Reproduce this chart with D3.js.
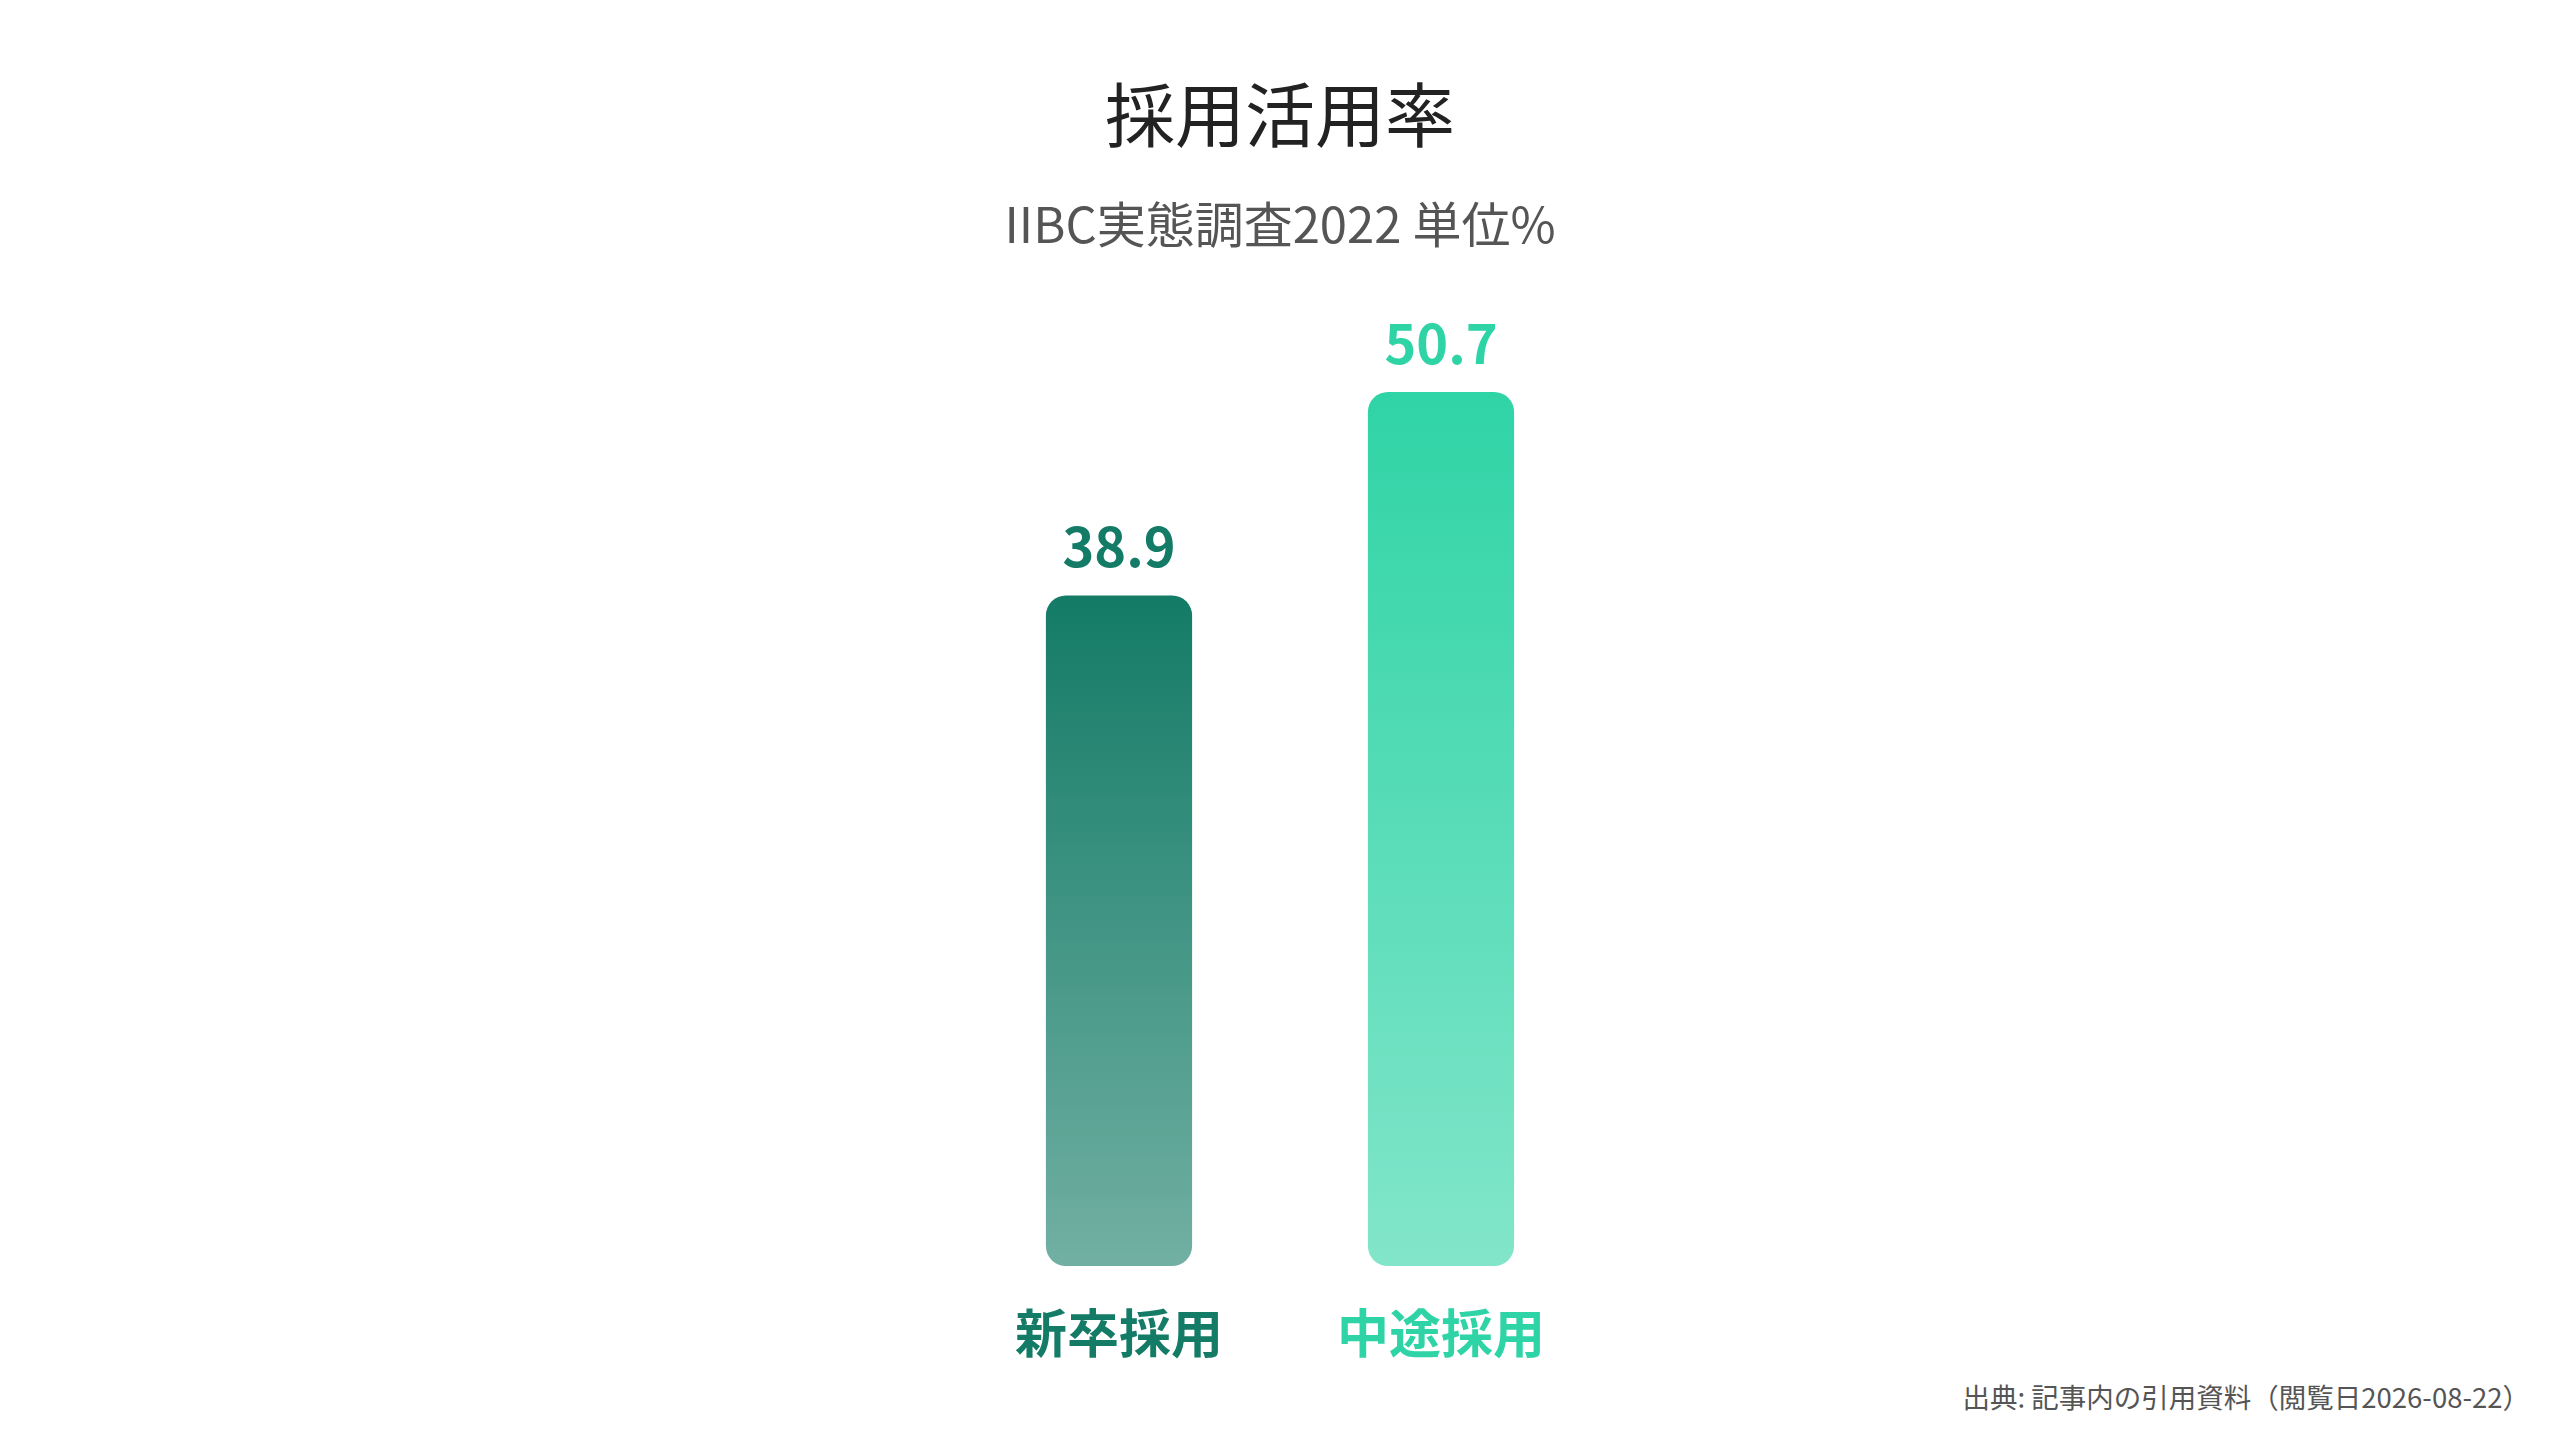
<!DOCTYPE html>
<html lang="ja">
<head>
<meta charset="utf-8">
<script src="https://cdn.jsdelivr.net/npm/d3@7"></script>
<style>
  html, body { margin: 0; padding: 0; background: #fff; }
  svg text { font-family: "Noto Sans CJK JP", "Noto Sans", sans-serif; }
</style>
</head>
<body>
<div id="chart"></div>
<script>
const categories = ['新卒採用', '中途採用'];
const values = [38.9, 50.7];
const colors = ['#137b66', '#2fd4a6'];

const W = 2560, H = 1440;

const svg = d3.select('#chart').append('svg')
  .attr('width', W)
  .attr('height', H);

const defs = svg.append('defs');
categories.forEach((c, i) => {
  const grad = defs.append('linearGradient')
    .attr('id', 'grad' + i)
    .attr('x1', 0).attr('y1', 0)
    .attr('x2', 0).attr('y2', 1);
  grad.append('stop').attr('offset', '0%')
    .attr('stop-color', colors[i]).attr('stop-opacity', 1);
  grad.append('stop').attr('offset', '100%')
    .attr('stop-color', colors[i]).attr('stop-opacity', 0.6);
});

const x_scale = d3.scaleBand()
  .domain(categories)
  .range([958, 1602])
  .paddingInner(0.546)
  .paddingOuter(0.273);

const y_scale = d3.scaleLinear()
  .domain([0, d3.max(values)])
  .range([1266, 392]);

const data = categories.map((c, i) => ({ category: c, value: values[i], i: i }));

// title
svg.append('text')
  .attr('x', W / 2).attr('y', 142)
  .attr('text-anchor', 'middle')
  .attr('font-size', 70)
  .attr('fill', '#222')
  .text('採用活用率');

svg.append('text')
  .attr('x', W / 2).attr('y', 243)
  .attr('text-anchor', 'middle')
  .attr('font-size', 49)
  .attr('fill', '#555')
  .text('IIBC実態調査2022 単位%');

const bars = svg.append('g').attr('class', 'bars')
  .selectAll('g')
  .data(data)
  .enter().append('g');

bars.append('rect')
  .attr('x', (d) => x_scale(d.category))
  .attr('y', (d) => y_scale(d.value))
  .attr('width', x_scale.bandwidth())
  .attr('height', (d) => y_scale(0) - y_scale(d.value))
  .attr('rx', 20).attr('ry', 20)
  .attr('fill', (d) => 'url(#grad' + d.i + ')');

bars.append('text')
  .attr('x', (d) => x_scale(d.category) + x_scale.bandwidth() / 2)
  .attr('y', (d) => y_scale(d.value) - 28)
  .attr('text-anchor', 'middle')
  .attr('font-size', 54)
  .attr('font-weight', 700)
  .attr('fill', (d) => colors[d.i])
  .text((d) => d.value.toFixed(1));

// category labels
svg.append('g')
  .attr('transform', 'translate(0,' + y_scale(0) + ')')
  .call(d3.axisBottom(x_scale).tickSize(0).tickPadding(0))
  .call((g) => g.select('.domain').remove())
  .selectAll('text')
  .attr('dy', null)
  .attr('y', 87)
  .attr('font-size', 52)
  .attr('font-weight', 700)
  .attr('font-family', '"Noto Sans CJK JP", sans-serif')
  .attr('fill', (d, i) => colors[i]);

svg.append('text')
  .attr('x', 2530).attr('y', 1408)
  .attr('text-anchor', 'end')
  .attr('font-size', 27.5)
  .attr('fill', '#555')
  .text('出典: 記事内の引用資料（閲覧日2026-08-22）');
</script>
</body>
</html>
